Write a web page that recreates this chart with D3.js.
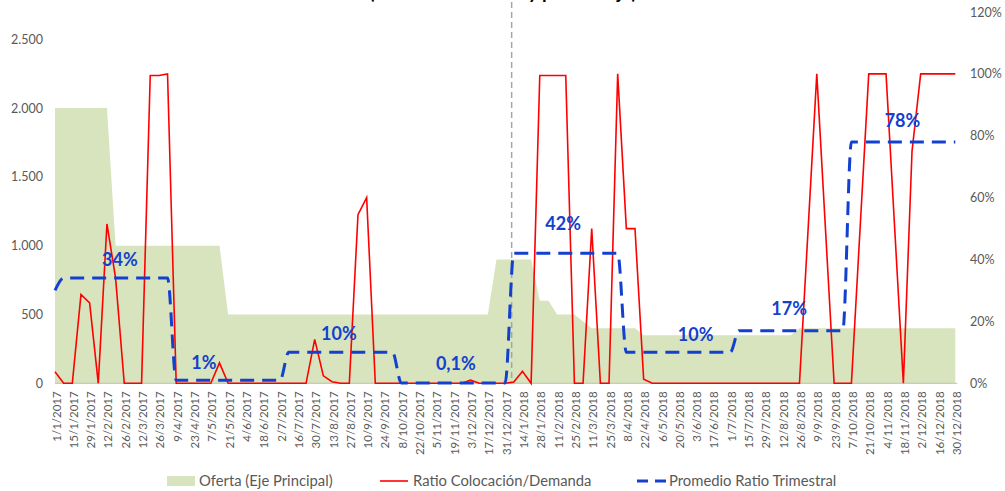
<!DOCTYPE html>
<html>
<head>
<meta charset="utf-8">
<script src="https://cdn.jsdelivr.net/npm/d3@7/dist/d3.min.js"></script>
<style>
  html, body { margin: 0; padding: 0; background: #ffffff; }
  svg { display: block; }
  text { font-family: Lato, "Open Sans", sans-serif; }
</style>
</head>
<body>
<svg id="chart" width="1005" height="491"></svg>
<script>
// Weekly categories (Sundays), 1/1/2017 – 30/12/2018
const weeks = [
  "1/1/2017","8/1/2017","15/1/2017","22/1/2017","29/1/2017",
  "5/2/2017","12/2/2017","19/2/2017","26/2/2017",
  "5/3/2017","12/3/2017","19/3/2017","26/3/2017",
  "2/4/2017","9/4/2017","16/4/2017","23/4/2017","30/4/2017",
  "7/5/2017","14/5/2017","21/5/2017","28/5/2017",
  "4/6/2017","11/6/2017","18/6/2017","25/6/2017",
  "2/7/2017","9/7/2017","16/7/2017","23/7/2017","30/7/2017",
  "6/8/2017","13/8/2017","20/8/2017","27/8/2017",
  "3/9/2017","10/9/2017","17/9/2017","24/9/2017",
  "1/10/2017","8/10/2017","15/10/2017","22/10/2017","29/10/2017",
  "5/11/2017","12/11/2017","19/11/2017","26/11/2017",
  "3/12/2017","10/12/2017","17/12/2017","24/12/2017","31/12/2017",
  "7/1/2018","14/1/2018","21/1/2018","28/1/2018",
  "4/2/2018","11/2/2018","18/2/2018","25/2/2018",
  "4/3/2018","11/3/2018","18/3/2018","25/3/2018",
  "1/4/2018","8/4/2018","15/4/2018","22/4/2018","29/4/2018",
  "6/5/2018","13/5/2018","20/5/2018","27/5/2018",
  "3/6/2018","10/6/2018","17/6/2018","24/6/2018",
  "1/7/2018","8/7/2018","15/7/2018","22/7/2018","29/7/2018",
  "5/8/2018","12/8/2018","19/8/2018","26/8/2018",
  "2/9/2018","9/9/2018","16/9/2018","23/9/2018","30/9/2018",
  "7/10/2018","14/10/2018","21/10/2018","28/10/2018",
  "4/11/2018","11/11/2018","18/11/2018","25/11/2018",
  "2/12/2018","9/12/2018","16/12/2018","23/12/2018","30/12/2018"
];

// Oferta (millones de euros) – eje principal
const oferta = [
  2000,2000,2000,2000,2000,2000,2000,1000,1000,1000,
  1000,1000,1000,1000,1000,1000,1000,1000,1000,1000,
  500,500,500,500,500,500,500,500,500,500,
  500,500,500,500,500,500,500,500,500,500,
  500,500,500,500,500,500,500,500,500,500,
  500,900,900,900,900,900,600,600,500,500,
  500,450,400,400,400,400,400,400,350,350,
  350,350,350,350,350,350,350,350,350,350,
  350,350,350,350,350,350,400,400,400,400,
  400,400,400,400,400,400,400,400,400,400,
  400,400,400,400,400
];

// Ratio Colocación/Demanda (%) – eje secundario
const ratio = [
  3.7,0,0,28.7,26,0,51.5,34,0,0,
  0,99.5,99.5,100,0,0,0,0,0,6.6,
  0,0,0,0,0,0,0,0,0,0,
  14.2,2.4,0.5,0,0,54.5,60,0,0,0,
  0,0,0,0,0,0,0,0,1,0,
  0,0,0,0.4,3.9,0,99.5,99.5,99.5,99.5,
  0,0,50,0,0,100,50,50,1.3,0,
  0,0,0,0,0,0,0,0,0,0,
  0,0,0,0,0,0,0,50,100,50,
  0,0,0,50,100,100,100,50,0,75,
  100,100,100,100,100
];

// Promedio Ratio Trimestral (%) – eje secundario
const promedio = [
  30,34,34,34,34,34,34,34,34,34,
  34,34,34,34,1,1,1,1,1,1,
  1,1,1,1,1,1,1,10,10,10,
  10,10,10,10,10,10,10,10,10,10,
  0.1,0.1,0.1,0.1,0.1,0.1,0.1,0.1,0.1,0.1,
  0.1,0.1,0.1,42,42,42,42,42,42,42,
  42,42,42,42,42,42,10,10,10,10,
  10,10,10,10,10,10,10,10,10,17,
  17,17,17,17,17,17,17,17,17,17,
  17,17,78,78,78,78,78,78,78,78,
  78,78,78,78,78
];

// Quarterly averages shown as labels
const quarterAvg = [34, 1, 10, 0.1, 42, 10, 17, 78];

// Axis ticks
const leftTicks = [0, 500, 1000, 1500, 2000, 2500];
const rightTicks = [0, 0.2, 0.4, 0.6, 0.8, 1.0, 1.2];
const xTickLabels = weeks.filter((d, i) => i % 2 === 0);

const title = "(Millones de euros y porcentaje)";
const legendNames = ["Oferta (Eje Principal)", "Ratio Colocación/Demanda", "Promedio Ratio Trimestral"];

// ---- layout ----
const svg = d3.select("#chart");
const plot = { left: 55, right: 955.3, bottom: 383.3 };

const x = d3.scalePoint().domain(weeks).range([plot.left, plot.right]).padding(0);
const yL = d3.scaleLinear().domain([0, 2500]).range([plot.bottom, 39.3]);
const yR = d3.scaleLinear().domain([0, 1.2]).range([plot.bottom, 12]);

const green = "#d7e4bd", red = "#ff0000", blue = "#1440cf", grey = "#595959";

// Title (sits at the very top edge)
svg.append("text")
  .attr("x", 503).attr("y", -1)
  .attr("text-anchor", "middle")
  .attr("font-size", 19).attr("font-weight", 700)
  .attr("fill", "#000")
  .text(title);

// Oferta area
svg.append("path")
  .datum(oferta)
  .attr("fill", green)
  .attr("d", d3.area()
    .x((d, i) => x(weeks[i]))
    .y0(yL(0))
    .y1(d => yL(d)));

// Category axis line
svg.append("line")
  .attr("x1", plot.left).attr("x2", plot.right + 2)
  .attr("y1", plot.bottom).attr("y2", plot.bottom)
  .attr("stroke", "#bfbfbf").attr("stroke-width", 1);

// Year divider between the last week of 2017 and the first of 2018
const step = x.step();
const dividerX = x("31/12/2017") + step * 0.75;
svg.append("line")
  .attr("x1", dividerX).attr("x2", dividerX)
  .attr("y1", 2).attr("y2", plot.bottom)
  .attr("stroke", "#a6a6a6").attr("stroke-width", 1.5)
  .attr("stroke-dasharray", "6,4");

// Ratio line
svg.append("path")
  .datum(ratio)
  .attr("fill", "none")
  .attr("stroke", red).attr("stroke-width", 1.6)
  .attr("stroke-linejoin", "miter")
  .attr("d", d3.line()
    .x((d, i) => x(weeks[i]))
    .y(d => yR(d / 100)));

// Quarterly average (smoothed dashed line)
svg.append("path")
  .datum(promedio)
  .attr("fill", "none")
  .attr("stroke", blue).attr("stroke-width", 3)
  .attr("stroke-dasharray", "14,8")
  .attr("d", d3.line()
    .curve(d3.curveMonotoneX)
    .x((d, i) => x(weeks[i]))
    .y(d => yR(d / 100)));

// Quarter labels: anchored over each quarter's segment
const es = d3.formatLocale({ decimal: ",", thousands: ".", grouping: [3], currency: ["", "€"] });
const fmtPct = v => (v < 1 ? es.format(".1f")(v) : es.format("d")(v)) + "%";
const labelAnchors = [
  { at: 7.5,  dy: -18 },
  { at: 17.2, dy: -18 },
  { at: 32.8, dy: -19 },
  { at: 46.3, dy: -19 },
  { at: 58.7, dy: -30 },
  { at: 74.0, dy: -18 },
  { at: 84.8, dy: -22 },
  { at: 97.9, dy: -21 }
];
svg.append("g").selectAll("text")
  .data(quarterAvg)
  .join("text")
  .attr("x", (d, i) => plot.left + labelAnchors[i].at * step)
  .attr("y", (d, i) => yR(d / 100) + labelAnchors[i].dy)
  .attr("dy", "0.35em")
  .attr("text-anchor", "middle")
  .attr("font-size", 18).attr("font-weight", 700)
  .attr("fill", blue)
  .text(d => fmtPct(d));

// Left axis
const axL = svg.append("g")
  .attr("transform", `translate(43,0)`)
  .call(d3.axisLeft(yL).tickValues(leftTicks).tickSize(0).tickPadding(0)
    .tickFormat(d => es.format(",d")(d)));
axL.select(".domain").remove();
axL.selectAll("text").attr("font-size", 12.5).attr("fill", grey).attr("font-family", "Lato");

// Right axis
const axR = svg.append("g")
  .attr("transform", `translate(970,0)`)
  .call(d3.axisRight(yR).tickValues(rightTicks).tickSize(0).tickPadding(0)
    .tickFormat(d => d3.format(".0%")(d)));
axR.select(".domain").remove();
axR.selectAll("text").attr("font-size", 12.5).attr("fill", grey).attr("font-family", "Lato");

// Bottom axis with vertical date labels
const axB = svg.append("g")
  .attr("transform", `translate(0,${plot.bottom})`)
  .call(d3.axisBottom(x).tickValues(xTickLabels).tickSize(0));
axB.select(".domain").remove();
axB.selectAll("text")
  .attr("font-size", 11.5).attr("fill", grey).attr("font-family", "Lato")
  .attr("text-anchor", "end")
  .attr("transform", "rotate(-90)")
  .attr("x", -8).attr("y", 1).attr("dy", "0.35em");

// Legend
const lg = svg.append("g").attr("font-size", 14.8).attr("fill", grey);
lg.append("rect").attr("x", 167).attr("y", 476).attr("width", 28).attr("height", 10).attr("fill", green);
lg.append("text").attr("x", 199).attr("y", 481).attr("dy", "0.35em").attr("fill", grey).text(legendNames[0]);
lg.append("line").attr("x1", 380).attr("x2", 408).attr("y1", 481).attr("y2", 481)
  .attr("stroke", red).attr("stroke-width", 1.6);
lg.append("text").attr("x", 413).attr("y", 481).attr("dy", "0.35em").attr("fill", grey).text(legendNames[1]);
lg.append("line").attr("x1", 637).attr("x2", 666).attr("y1", 481).attr("y2", 481)
  .attr("stroke", blue).attr("stroke-width", 3).attr("stroke-dasharray", "11,7");
lg.append("text").attr("x", 669).attr("y", 481).attr("dy", "0.35em").attr("fill", grey).text(legendNames[2]);
</script>
</body>
</html>
